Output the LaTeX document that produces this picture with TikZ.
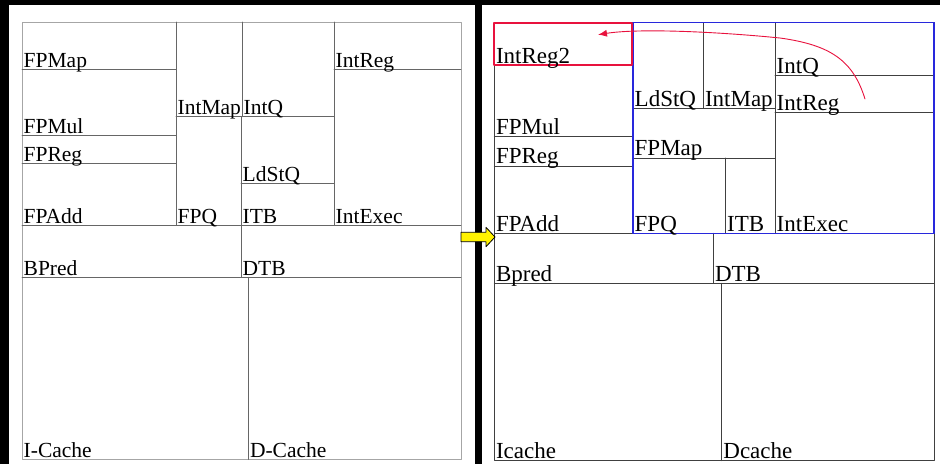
\documentclass[tikz,border=0pt]{standalone}
\usepackage{fontspec}
\setmainfont{Liberation Serif}
\newfontfamily\planfont{Liberation Serif}
\usetikzlibrary{arrows.meta}
\definecolor{regred}{RGB}{232,18,62}
\definecolor{qblue}{RGB}{40,40,220}
\tikzset{
  outerwall/.style={line width=0.9pt,draw=black!35},
  innerwall/.style={line width=0.9pt,draw=black!60},
  newwall/.style={line width=0.9pt,draw=black!75},
  leftlbl/.style={anchor=base west,inner sep=0pt,xshift=1.5pt,yshift=2pt,
    font=\planfont\fontsize{21.5}{22}\selectfont},
  rightlbl/.style={anchor=base west,inner sep=0pt,xshift=1.5pt,yshift=2.3pt,
    font=\planfont\fontsize{23}{24}\selectfont},
}
\begin{document}
\begin{tikzpicture}[x=1pt,y=-1pt,line cap=round,line join=round]
  \useasboundingbox (0,0) rectangle (940,464);
  % black frame
  \fill[black] (0,0) rectangle (940,5);
  \fill[black] (0,0) rectangle (9,464);
  \fill[black] (475,0) rectangle (482,464);
  % old floorplan
  \draw[outerwall,fill=white] (22,22) rectangle (461,459.5);
  \draw[innerwall] (22,69.3) -- (176,69.3);
  \draw[innerwall] (176,22) -- (176,225.3);
  \draw[innerwall] (22,135.3) -- (176,135.3);
  \draw[innerwall] (22,163.3) -- (176,163.3);
  \draw[innerwall] (176,116.7) -- (334,116.7);
  \draw[innerwall] (242.7,22) -- (242.7,116.7);
  \draw[innerwall] (241,116.7) -- (241,277.3);
  \draw[innerwall] (334,22) -- (334,225.3);
  \draw[innerwall] (334,69.3) -- (461,69.3);
  \draw[innerwall] (241,183.3) -- (334,183.3);
  \draw[innerwall] (22,225.3) -- (461,225.3);
  \draw[innerwall] (22,277.3) -- (461,277.3);
  \draw[innerwall] (248.3,277.3) -- (248.3,459.5);
  \node[leftlbl] (lfpmap) at (22,69.3) {FPMap};
  \node[leftlbl] (lfpmul) at (22,135.3) {FPMul};
  \node[leftlbl] (lfpreg) at (22,163.3) {FPReg};
  \node[leftlbl] (lfpadd) at (22,225.3) {FPAdd};
  \node[leftlbl] (lintmap) at (176,116.7) {IntMap};
  \node[leftlbl] (lfpq) at (176,225.3) {FPQ};
  \node[leftlbl] (lintq) at (242,116.7) {IntQ};
  \node[leftlbl] (lldstq) at (241,183.3) {LdStQ};
  \node[leftlbl] (litb) at (241,225.3) {ITB};
  \node[leftlbl] (lintreg) at (334,69.3) {IntReg};
  \node[leftlbl] (lintexec) at (334,225.3) {IntExec};
  \node[leftlbl] (lbpred) at (22,277.3) {BPred};
  \node[leftlbl] (ldtb) at (241,277.3) {DTB};
  \node[leftlbl] (licache) at (22,459.5) {I-Cache};
  \node[leftlbl] (ldcache) at (248.3,459.5) {D-Cache};
  % new floorplan
  \draw[newwall,fill=white] (494.3,22.7) rectangle (934,460.7);
  \draw[newwall] (494.3,136.7) -- (633,136.7);
  \draw[newwall] (494.3,166) -- (633,166);
  \draw[newwall] (494.3,233.3) -- (934,233.3);
  \draw[newwall] (713.3,233.3) -- (713.3,283.3);
  \draw[newwall] (494.3,283.3) -- (934,283.3);
  \draw[newwall] (721.7,283.3) -- (721.7,460.7);
  \draw[newwall] (703.3,22.7) -- (703.3,108.3);
  \draw[newwall] (775,22.7) -- (775,233.3);
  \draw[newwall] (633,108.3) -- (775,108.3);
  \draw[newwall] (775,75.3) -- (934,75.3);
  \draw[newwall] (775,112.7) -- (934,112.7);
  \draw[newwall] (633,158) -- (775,158);
  \draw[newwall] (725,158) -- (725,233.3);
  \draw[qblue,line width=1.4pt] (633,22.7) rectangle (934,233.3);
  \draw[regred,line width=2.2pt] (494.3,22.7) rectangle (632.3,65.3);
  \node[rightlbl] (rintreg2) at (494.3,65.3) {IntReg2};
  \node[rightlbl] (rfpmul) at (494.3,136.7) {FPMul};
  \node[rightlbl] (rfpreg) at (494.3,166) {FPReg};
  \node[rightlbl] (rfpadd) at (494.3,233.3) {FPAdd};
  \node[rightlbl] (rldstq) at (633,108.3) {LdStQ};
  \node[rightlbl] (rintmap) at (703.3,108.3) {IntMap};
  \node[rightlbl] (rfpmap) at (633,158) {FPMap};
  \node[rightlbl] (rfpq) at (633,233.3) {FPQ};
  \node[rightlbl] (ritb) at (725.5,233.3) {ITB};
  \node[rightlbl] (rintq) at (775,75.3) {IntQ};
  \node[rightlbl] (rintreg) at (775,112.7) {IntReg};
  \node[rightlbl] (rintexec) at (775,233.3) {IntExec};
  \node[rightlbl] (rbpred) at (494.3,283.3) {Bpred};
  \node[rightlbl] (rdtb) at (713.3,283.3) {DTB};
  \node[rightlbl] (ricache) at (494.3,460.7) {Icache};
  \node[rightlbl] (rdcache) at (721.7,460.7) {Dcache};
  % move of IntReg
  \coordinate (movefrom) at (865,99);
  \coordinate (moveto) at (598,34.7);
  \draw[regred,line width=0.9pt,-{Latex[length=9pt,width=7pt]}] (movefrom)
    .. controls (853,60) and (830,45) .. (780,38)
    .. controls (720,32) and (640,28) .. (moveto);
  % yellow arrow between the plans
  \draw[fill=yellow,line width=0.8pt] (461,232.3) -- (486,232.3) -- (486,227.3)
    -- (495,237) -- (486,246.7) -- (486,241.7) -- (461,241.7) -- cycle;
\end{tikzpicture}
\end{document}
